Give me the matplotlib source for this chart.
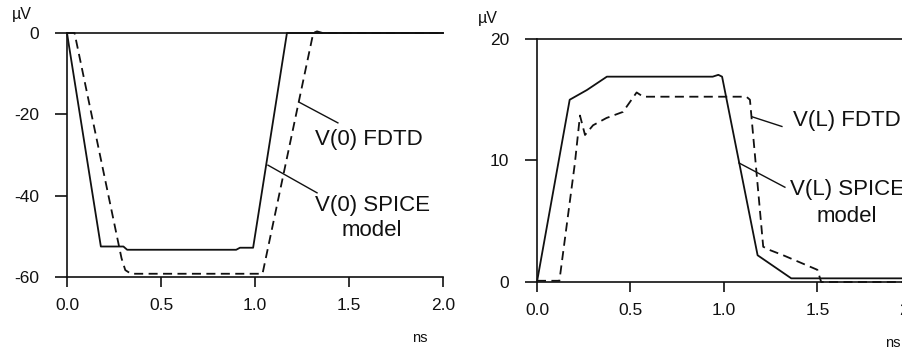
import matplotlib
matplotlib.use("Agg")
import matplotlib.pyplot as plt

plt.rcParams["font.family"] = ["Liberation Sans", "DejaVu Sans"]

# left panel: V(0), microvolts vs ns
t0_fdtd = [0.0, 0.01, 0.18, 0.30, 0.32, 0.90, 0.92, 0.99, 1.17, 2.0]
v0_fdtd = [0.0, -3.0, -52.5, -52.5, -53.3, -53.3, -52.8, -52.8, 0.0, 0.0]
t0_spice = [0.0, 0.04, 0.29, 0.31, 0.34, 1.04, 1.31, 1.33, 1.36, 2.0]
v0_spice = [0.0, 0.0, -55.4, -58.3, -59.2, -59.2, 0.0, 0.4, 0.0, 0.0]

# right panel: V(L)
tl_fdtd = [0.0, 0.175, 0.267, 0.374, 0.94, 0.97, 0.99, 1.18, 1.36, 2.0]
vl_fdtd = [0.0, 15.0, 15.8, 16.9, 16.9, 17.05, 16.9, 2.2, 0.3, 0.3]
tl_spice = [0.0, 0.12, 0.203, 0.23, 0.257, 0.30, 0.372, 0.46, 0.533, 0.568,
            1.12, 1.139, 1.21, 1.25, 1.317, 1.50, 1.52, 2.0]
vl_spice = [0.1, 0.1, 9.8, 13.7, 12.1, 12.9, 13.5, 14.0, 15.6, 15.25,
            15.25, 15.0, 2.9, 2.6, 2.2, 1.0, 0.0, 0.0]

x_ticks = [0.0, 0.5, 1.0, 1.5, 2.0]
x_labels = ["0.0", "0.5", "1.0", "1.5", "2.0"]
y0_ticks = [0, -20, -40, -60]
yl_ticks = [0, 10, 20]

# labels and leader lines (data coords)
lead0_fdtd = ([1.234, 1.441], [-17.0, -22.1])
lead0_spice = ([1.069, 1.33], [-32.5, -39.3])
leadl_fdtd = ([1.150, 1.31], [13.6, 12.8])
leadl_spice = ([1.080, 1.326], [9.8, 7.8])

fig = plt.figure(figsize=(9.02, 3.51), dpi=100)
ink = "#111111"


def style(ax, ylim, yticks):
    ax.set_xlim(0, 2.0)
    ax.set_ylim(*ylim)
    ax.set_xticks(x_ticks)
    ax.set_xticklabels(x_labels)
    ax.set_yticks(yticks)
    ax.set_yticklabels([str(v) for v in yticks])
    ax.spines["right"].set_visible(False)
    for s in ("left", "top", "bottom"):
        ax.spines[s].set_linewidth(1.2)
        ax.spines[s].set_color(ink)
    ax.tick_params(axis="y", direction="out", length=9, width=1.2, pad=11,
                   labelsize=12.5, colors=ink)
    ax.tick_params(axis="x", direction="out", length=7, width=1.2, pad=8,
                   labelsize=12.5, colors=ink)


ax1 = fig.add_axes([0.0743, 0.2108, 0.4168, 0.6952])
ax1.plot(t0_fdtd, v0_fdtd, color=ink, lw=1.3, clip_on=False)
ax1.plot(t0_spice, v0_spice, color=ink, lw=1.3, dashes=(5, 3), clip_on=False)
style(ax1, (-60, 0), y0_ticks)
ax1.plot(*lead0_fdtd, color=ink, lw=1.0)
ax1.plot(*lead0_spice, color=ink, lw=1.0)
ax1.text(1.319, -26.3, "V(0) FDTD", fontsize=16, va="center", ha="left", color=ink)
ax1.text(1.319, -42.3, "V(0) SPICE", fontsize=16, va="center", ha="left", color=ink)
ax1.text(1.622, -48.6, "model", fontsize=16, va="center", ha="center", color=ink)
fig.text(12 / 902, 1 - 15 / 351, "µV", fontsize=11.5, va="center", ha="left", color=ink)
fig.text(420 / 902, 1 - 338 / 351, "ns", fontsize=10.5, va="center", ha="center", color=ink)

ax2 = fig.add_axes([0.5953, 0.1966, 0.4146, 0.6923])
ax2.plot(tl_fdtd, vl_fdtd, color=ink, lw=1.3, clip_on=False)
ax2.plot(tl_spice, vl_spice, color=ink, lw=1.3, dashes=(5, 3), clip_on=False)
style(ax2, (0, 20), yl_ticks)
ax2.plot(*leadl_fdtd, color=ink, lw=1.0)
ax2.plot(*leadl_spice, color=ink, lw=1.0)
ax2.text(1.369, 13.3, "V(L) FDTD", fontsize=16, va="center", ha="left", color=ink)
ax2.text(1.353, 7.6, "V(L) SPICE", fontsize=16, va="center", ha="left", color=ink)
ax2.text(1.658, 5.4, "model", fontsize=16, va="center", ha="center", color=ink)
fig.text(478 / 902, 1 - 18 / 351, "µV", fontsize=11.5, va="center", ha="left", color=ink)
fig.text(893 / 902, 1 - 343 / 351, "ns", fontsize=10.5, va="center", ha="center", color=ink)

fig.savefig("out.png", dpi=100)
